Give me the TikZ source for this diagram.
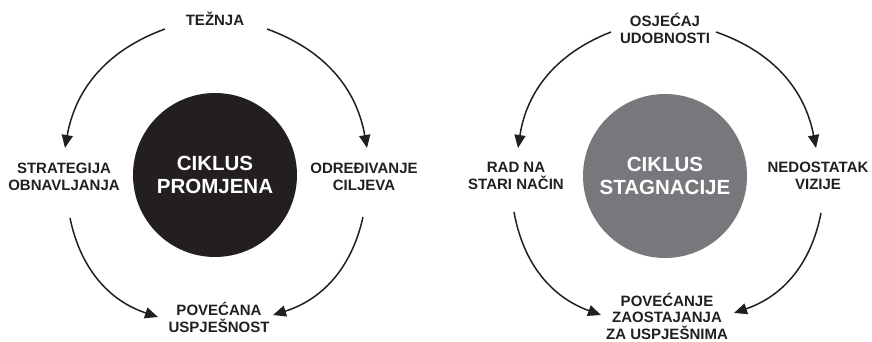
\documentclass[tikz,border=0pt]{standalone}
\usepackage{fontspec}
\setmainfont{Liberation Sans}
\usetikzlibrary{arrows.meta}
\definecolor{ink}{HTML}{231F20}
\definecolor{stag}{HTML}{77787B}
\begin{document}
\begin{tikzpicture}[x=1pt,y=-1pt,
  lbl/.style={font=\bfseries\fontsize{15}{17}\selectfont, text=ink, align=center, anchor=base, inner sep=0pt},
  hub/.style={circle, minimum size=164pt, inner sep=0pt, align=center, font=\bfseries\fontsize{20.5}{23}\selectfont, text=white},
  cyc/.style={-{Triangle[length=13pt,width=11pt]}, line width=1.5pt, draw=ink}]
\useasboundingbox (0,0) rectangle (872,342);
% ---------- left: cycle of change ----------
\node[hub, fill=ink] (promj) at (215,175) {CIKLUS\\PROMJENA};
\node[lbl] (tez) at (215,26) {TEŽNJA};
\node[lbl] (strat) at (64,190) {STRATEGIJA\\OBNAVLJANJA};
\node[lbl] (odr) at (364,190) {ODREĐIVANJE\\CILJEVA};
\node[lbl] (pov) at (219,332) {POVEĆANA\\USPJEŠNOST};
\coordinate (l1s) at (165,29);  \coordinate (l1e) at (65,148);
\coordinate (l2s) at (267,29);  \coordinate (l2e) at (367,148);
\coordinate (l3s) at (70,218);  \coordinate (l3e) at (158,317);
\coordinate (l4s) at (363,217); \coordinate (l4e) at (273,315);
\draw[cyc] (l1s) to[bend right=30] (l1e);
\draw[cyc] (l2s) to[bend left=30] (l2e);
\draw[cyc] (l3s) to[bend right=30] (l3e);
\draw[cyc] (l4s) to[bend left=30] (l4e);
% ---------- right: cycle of stagnation ----------
\node[hub, fill=stag] (stagn) at (665,176) {CIKLUS\\STAGNACIJE};
\node[lbl] (osj) at (665,44) {OSJEĆAJ\\UDOBNOSTI};
\node[lbl] (rad) at (516,189) {RAD NA\\STARI NAČIN};
\node[lbl] (ned) at (818,189) {NEDOSTATAK\\VIZIJE};
\node[lbl, font=\bfseries\fontsize{15}{16.5}\selectfont] (zao) at (667,339) {POVEĆANJE\\ZAOSTAJANJA\\ZA USPJEŠNIMA};
\coordinate (r1s) at (611,32);  \coordinate (r1e) at (518,148);
\coordinate (r2s) at (716,32);  \coordinate (r2e) at (816,148);
\coordinate (r3s) at (514,212); \coordinate (r3e) at (601,315);
\coordinate (r4s) at (821,213); \coordinate (r4e) at (734,313);
\draw[cyc] (r1s) to[bend right=30] (r1e);
\draw[cyc] (r2s) to[bend left=30] (r2e);
\draw[cyc] (r3s) to[bend right=30] (r3e);
\draw[cyc] (r4s) to[bend left=30] (r4e);
\end{tikzpicture}
\end{document}
